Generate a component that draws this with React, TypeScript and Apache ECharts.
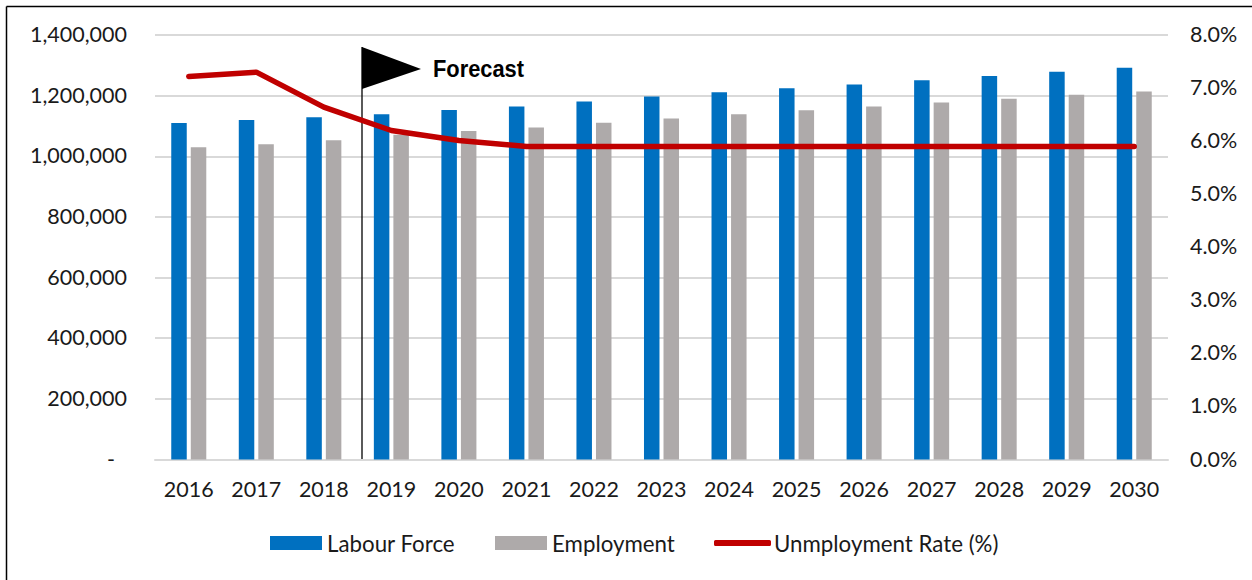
import React, { useEffect, useRef } from "react";
import * as echarts from "echarts";

const years = ["2016","2017","2018","2019","2020","2021","2022","2023","2024","2025","2026","2027","2028","2029","2030"];
const labourForce = [1110000,1120000,1129000,1139000,1153000,1164000,1181000,1197000,1211000,1224000,1237000,1251000,1265000,1279000,1292000];
const employment = [1030000,1040000,1053000,1071000,1083000,1095000,1111000,1125000,1139000,1152000,1164000,1177000,1190000,1203000,1214000];
const unemploymentRate = [7.22,7.3,6.64,6.2,6.01,5.9,5.9,5.9,5.9,5.9,5.9,5.9,5.9,5.9,5.9];

const FONT = "Lato";
const TEXT = "#1a1a1a";
const SIZE = 21.5;

export default function App() {
  const ref = useRef<HTMLDivElement>(null);
  useEffect(() => {
    const chart = echarts.init(ref.current!, null, { renderer: "svg" });
    const legendText = { fontFamily: FONT, fontSize: 22.3, color: TEXT };
    chart.setOption({
      animation: false,
      backgroundColor: "#ffffff",
      grid: { left: 155, right: 84, top: 35, height: 424.5 },
      xAxis: {
        type: "category",
        data: years,
        axisTick: { show: false },
        axisLine: { lineStyle: { color: "#d9d9d9", width: 2 } },
        axisLabel: { fontFamily: FONT, fontSize: SIZE, color: TEXT, margin: 18 },
      },
      yAxis: [
        {
          type: "value",
          min: 0,
          max: 1400000,
          interval: 200000,
          axisLine: { show: false },
          axisTick: { show: false },
          splitLine: { lineStyle: { color: "#d9d9d9", width: 2 } },
          axisLabel: {
            fontFamily: FONT, fontSize: SIZE, color: TEXT, margin: 28, padding: [0, 0, 2, 0],
            formatter: (v: number) => (v === 0 ? "{dash|-}" : v.toLocaleString("en-US")),
            rich: { dash: { fontFamily: FONT, fontSize: SIZE, color: TEXT, padding: [0, 12, 0, 0] } },
          },
        },
        {
          type: "value",
          min: 0,
          max: 8,
          interval: 1,
          axisLine: { show: false },
          axisTick: { show: false },
          splitLine: { show: false },
          axisLabel: {
            fontFamily: FONT, fontSize: SIZE, color: TEXT, margin: 22, padding: [0, 0, 2, 0],
            formatter: (v: number) => v.toFixed(1) + "%",
            rich: { pct: { fontFamily: FONT, fontSize: SIZE, color: TEXT } },
          },
        },
      ],
      legend: [
        { left: 265, top: 527, itemWidth: 52, itemHeight: 14, itemGap: 0, data: ["Labour Force"], textStyle: legendText, icon: "rect" },
        { left: 490, top: 527, itemWidth: 52, itemHeight: 14, itemGap: 0, data: ["Employment"], textStyle: legendText, icon: "rect" },
        {
          left: 709, top: 527, itemWidth: 57, itemHeight: 6, itemGap: 0,
          data: [{ name: "Unmployment Rate (%)", icon: "roundRect" }],
          textStyle: { ...legendText, padding: [0, 0, 0, -2] },
          itemStyle: { color: "#c00000", borderWidth: 0 },
          lineStyle: { width: 0 },
        },
      ],
      series: [
        { name: "Labour Force", type: "bar", data: labourForce, barWidth: 15.5, barGap: "26%", itemStyle: { color: "#0070c0" } },
        { name: "Employment", type: "bar", data: employment, barWidth: 15.5, barGap: "26%", itemStyle: { color: "#aeaaaa" } },
        {
          name: "Unmployment Rate (%)",
          type: "line",
          yAxisIndex: 1,
          data: unemploymentRate,
          showSymbol: false,
          symbol: "none",
          z: 5,
          lineStyle: { color: "#c00000", width: 5.5, cap: "round", join: "round" },
          itemStyle: { color: "#c00000" },
        },
      ],
      graphic: [
        { type: "line", z: 1, silent: true, shape: { x1: 6.5, y1: 6.5, x2: 1252, y2: 6.5 }, style: { stroke: "#000", lineWidth: 1.5 } },
        { type: "line", z: 1, silent: true, shape: { x1: 6.5, y1: 6.5, x2: 6.5, y2: 580 }, style: { stroke: "#000", lineWidth: 1.5 } },
        { type: "line", z: 1, silent: true, shape: { x1: 362, y1: 47, x2: 362, y2: 459 }, style: { stroke: "#000", lineWidth: 1.3 } },
        { type: "polygon", z: 1, silent: true, shape: { points: [[362, 47], [421, 69], [362, 89]] }, style: { fill: "#000" } },
        {
          type: "text", z: 6, silent: true, x: 433, y: 57, scaleX: 0.91,
          style: { text: "Forecast", fill: "#000", font: 'bold 24px "Liberation Sans"' },
        },
      ],
    });
    return () => chart.dispose();
  }, []);
  return <div ref={ref} style={{ position: "absolute", left: 0, top: 0, width: 1252, height: 580 }} />;
}
